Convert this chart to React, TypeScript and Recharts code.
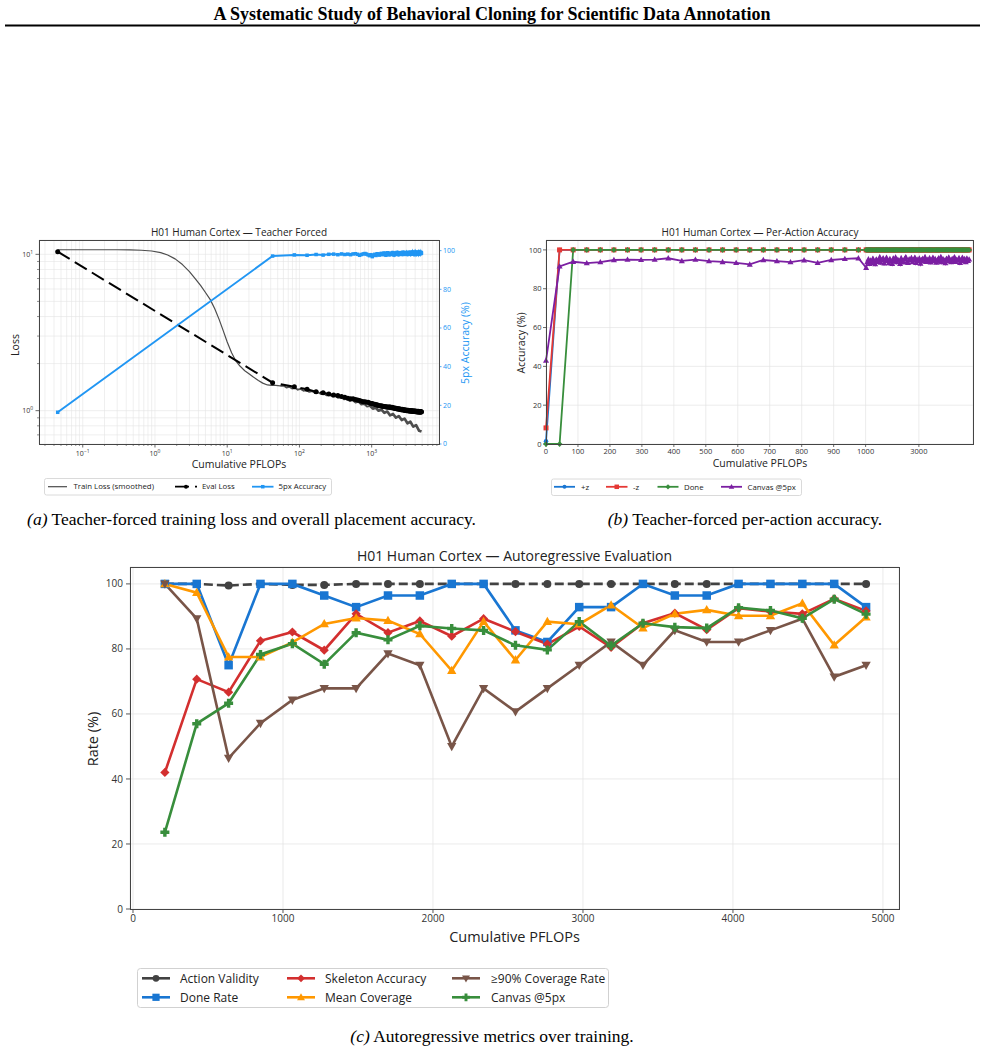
import React from 'react';
import { LineChart, Line, XAxis, YAxis, CartesianGrid } from 'recharts';

const SANS = '"Open Sans", "DejaVu Sans", sans-serif';
const SERIF = '"Liberation Serif", "DejaVu Serif", serif';
const INK = '#333333';
const FRAME = '#444444';
const GRID = '#e4e4e4';

// ---------- Teacher-forced run: smoothed training loss ----------
const TRAIN_PFLOPS = [
  0.045, 0.07, 0.1, 0.15, 0.2, 0.3, 0.45, 0.65, 0.9, 1.2,
  1.5, 1.9, 2.4, 3.0, 3.6, 4.3, 5.0, 5.8, 6.7, 7.7,
  8.8, 10, 11.5, 13, 15, 17.5, 20, 23, 27, 31,
  36, 41, 47, 54,
  60, 66, 72, 79, 87, 95, 104, 114, 125, 137,
  150, 165, 181, 198, 217, 238, 261, 286, 314, 344,
  377, 413, 453, 497, 545, 597, 655, 718, 787, 863,
  946, 1037, 1137, 1247, 1367, 1499, 1643, 1801, 1975, 2165,
  2374, 2603, 2853, 3128, 3430, 3760, 4122, 4520, 4900,
];
const TRAIN_LOSS = [
  10.7, 10.7, 10.7, 10.7, 10.7, 10.7, 10.68, 10.62, 10.5, 10.25,
  9.9, 9.35, 8.6, 7.75, 7.0, 6.3, 5.7, 5.15, 4.5, 3.85,
  3.25, 2.75, 2.35, 2.1, 1.93, 1.8, 1.72, 1.64, 1.56, 1.5,
  1.46, 1.45, 1.45, 1.44,
  1.448, 1.407, 1.423, 1.387, 1.398, 1.362, 1.378, 1.342, 1.352, 1.318,
  1.332, 1.298, 1.312, 1.278, 1.287, 1.253, 1.267, 1.233, 1.242, 1.208,
  1.222, 1.183, 1.192, 1.152, 1.167, 1.127, 1.138, 1.096, 1.104, 1.061,
  1.074, 1.03, 1.045, 0.999, 1.016, 0.968, 0.987, 0.933, 0.952, 0.902,
  0.923, 0.871, 0.889, 0.83, 0.85, 0.79, 0.808, 0.745, 0.735,
];
// the noisy tail of the smoothed curve is drawn progressively heavier
const TRAIN_SEGMENTS = [
  { from: 0, to: 33, width: 1.2 },
  { from: 33, to: 64, width: 1.9 },
  { from: 64, to: 82, width: 2.7 },
];

// ---------- Teacher-forced evaluations ----------
const EVAL_PFLOPS = [
  0.045,
  42.5, 85, 127.5, 170, 212.5, 255, 297.5, 340, 382.5, 425,
  467.5, 510, 552.5, 595, 637.5, 680, 722.5, 765, 807.5, 850,
  892.5, 935, 977.5, 1020, 1062.5, 1105, 1147.5, 1190, 1232.5, 1275,
  1317.5, 1360, 1402.5, 1445, 1487.5, 1530, 1572.5, 1615, 1657.5, 1700,
  1742.5, 1785, 1827.5, 1870, 1912.5, 1955, 1997.5, 2040, 2082.5, 2125,
  2167.5, 2210, 2252.5, 2295, 2337.5, 2380, 2422.5, 2465, 2507.5, 2550,
  2592.5, 2635, 2677.5, 2720, 2762.5, 2805, 2847.5, 2890, 2932.5, 2975,
  3017.5, 3060, 3102.5, 3145, 3187.5, 3230, 3272.5, 3315, 3357.5, 3400,
  3442.5, 3485, 3527.5, 3570, 3612.5, 3655, 3697.5, 3740, 3782.5, 3825,
  3867.5, 3910, 3952.5, 3995, 4037.5, 4080, 4122.5, 4165, 4207.5, 4250,
  4292.5, 4335, 4377.5, 4420, 4462.5, 4505, 4547.5, 4590, 4632.5, 4675,
  4717.5, 4760, 4802.5, 4845, 4887.5,
];
const EVAL_LOSS = [
  10.4,
  1.51, 1.42, 1.37, 1.32, 1.3, 1.28, 1.26, 1.25, 1.23, 1.22,
  1.2, 1.19, 1.19, 1.18, 1.17, 1.16, 1.15, 1.14, 1.14, 1.13,
  1.13, 1.12, 1.11, 1.11, 1.1, 1.1, 1.09, 1.09, 1.08, 1.075,
  1.075, 1.07, 1.07, 1.065, 1.065, 1.06, 1.06, 1.055, 1.055, 1.05,
  1.055, 1.055, 1.05, 1.045, 1.05, 1.045, 1.04, 1.04, 1.035, 1.035,
  1.035, 1.03, 1.03, 1.025, 1.03, 1.025, 1.02, 1.025, 1.02, 1.015,
  1.015, 1.02, 1.015, 1.01, 1.015, 1.01, 1.01, 1.005, 1.01, 1.005,
  1.005, 1.0, 1.005, 1.0, 1.005, 1.0, 1.0, 0.995, 1.0, 0.995,
  1.0, 0.995, 0.995, 1.0, 0.995, 0.99, 0.995, 0.99, 0.995, 0.99,
  0.99, 0.99, 0.995, 0.99, 0.985, 0.99, 0.99, 0.985, 0.985, 0.99,
  0.985, 0.98, 0.985, 0.99, 0.985, 0.98, 0.985, 0.985, 0.98, 0.98,
  0.985, 0.98, 0.985, 0.98, 0.985,
];
const ACC_5PX = [
  16.4,
  97.2, 97.8, 97.6, 98.0, 97.7, 98.1, 98.2, 97.9, 98.3, 98.0,
  98.2, 97.9, 98.3, 98.4, 98.1, 97.6, 98.0, 98.3, 98.5, 98.2,
  97.8, 97.4, 97.9, 96.9, 97.6, 98.1, 97.5, 98.4, 98.0, 97.7,
  98.3, 98.6, 97.9, 98.2, 98.8, 98.1, 97.6, 98.4, 98.9, 98.2,
  97.8, 98.5, 98.7, 98.0, 98.4, 99.0, 98.3, 97.7, 98.6, 98.8,
  98.1, 98.5, 99.1, 98.4, 97.9, 98.6, 98.9, 98.2, 98.7, 99.0,
  98.3, 98.0, 98.8, 99.2, 98.5, 98.1, 98.7, 98.9, 98.4, 98.6,
  99.1, 98.3, 98.0, 98.8, 99.0, 98.5, 98.2, 98.9, 99.2, 98.6,
  98.1, 98.7, 99.0, 98.4, 98.8, 99.3, 98.5, 98.2, 98.9, 98.6,
  99.1, 98.4, 98.0, 98.7, 99.2, 98.5, 98.8, 99.0, 98.3, 98.7,
  99.3, 98.6, 98.2, 98.9, 98.5, 99.1, 98.7, 98.4, 99.0, 98.6,
  98.8, 99.2, 98.5, 98.9, 98.7,
];
const ACC_PLUS_Z = [
  1.4,
  100, 100, 100, 100, 100, 100, 100, 100, 100, 100,
  100, 100, 100, 100, 100, 100, 100, 100, 100, 100,
  100, 100, 100, 100, 100, 100, 100, 100, 100, 100,
  100, 100, 100, 100, 100, 100, 100, 100, 100, 100,
  100, 100, 100, 100, 100, 100, 100, 100, 100, 100,
  100, 100, 100, 100, 100, 100, 100, 100, 100, 100,
  100, 100, 100, 100, 100, 100, 100, 100, 100, 100,
  100, 100, 100, 100, 100, 100, 100, 100, 100, 100,
  100, 100, 100, 100, 100, 100, 100, 100, 100, 100,
  100, 100, 100, 100, 100, 100, 100, 100, 100, 100,
  100, 100, 100, 100, 100, 100, 100, 100, 100, 100,
  100, 100, 100, 100, 100,
];
const ACC_MINUS_Z = [
  8.3,
  100, 100, 100, 100, 100, 100, 100, 100, 100, 100,
  100, 100, 100, 100, 100, 100, 100, 100, 100, 100,
  100, 100, 100, 100, 100, 100, 100, 100, 100, 100,
  100, 100, 100, 100, 100, 100, 100, 100, 100, 100,
  100, 100, 100, 100, 100, 100, 100, 100, 100, 100,
  100, 100, 100, 100, 100, 100, 100, 100, 100, 100,
  100, 100, 100, 100, 100, 100, 100, 100, 100, 100,
  100, 100, 100, 100, 100, 100, 100, 100, 100, 100,
  100, 100, 100, 100, 100, 100, 100, 100, 100, 100,
  100, 100, 100, 100, 100, 100, 100, 100, 100, 100,
  100, 100, 100, 100, 100, 100, 100, 100, 100, 100,
  100, 100, 100, 100, 100,
];
const ACC_DONE = [
  0,
  0, 100, 100, 100, 100, 100, 100, 100, 100, 100,
  100, 100, 100, 100, 100, 100, 100, 100, 100, 100,
  100, 100, 100, 100, 100, 100, 100, 100, 100, 100,
  100, 100, 100, 100, 100, 100, 100, 100, 100, 100,
  100, 100, 100, 100, 100, 100, 100, 100, 100, 100,
  100, 100, 100, 100, 100, 100, 100, 100, 100, 100,
  100, 100, 100, 100, 100, 100, 100, 100, 100, 100,
  100, 100, 100, 100, 100, 100, 100, 100, 100, 100,
  100, 100, 100, 100, 100, 100, 100, 100, 100, 100,
  100, 100, 100, 100, 100, 100, 100, 100, 100, 100,
  100, 100, 100, 100, 100, 100, 100, 100, 100, 100,
  100, 100, 100, 100, 100,
];
const ACC_CANVAS = [
  43,
  91.5, 93.9, 93.2, 93.7, 94.8, 95.0, 94.9, 95.0, 95.7, 94.3,
  95.0, 94.2, 93.8, 93.3, 92.5, 94.8, 94.2, 93.7, 94.7, 93.3,
  94.8, 95.4, 95.7, 90.8, 93.8, 95.2, 92.9, 94.6, 93.4, 95.5,
  94.0, 92.7, 95.1, 93.9, 94.8, 96.2, 93.5, 94.9, 95.8, 93.1,
  94.4, 96.0, 94.7, 93.2, 95.3, 94.1, 92.8, 95.6, 94.3, 96.1,
  93.7, 95.0, 94.5, 92.9, 95.7, 94.2, 93.6, 95.4, 96.3, 94.0,
  93.3, 95.2, 94.6, 95.9, 93.8, 94.9, 96.0, 93.4, 95.1, 94.3,
  95.6, 93.0, 94.8, 95.5, 94.1, 96.2, 93.9, 95.0, 94.4, 95.8,
  93.6, 94.7, 96.0, 94.2, 95.3, 93.5, 94.9, 95.7, 94.0, 96.4,
  93.8, 95.2, 94.6, 93.2, 95.5, 94.3, 96.1, 94.8, 93.7, 95.4,
  94.1, 96.3, 93.9, 95.0, 94.5, 95.8, 93.4, 94.9, 96.0, 94.2,
  95.3, 93.8, 95.6, 94.4, 95.1,
];

// ---------- Autoregressive evaluations ----------
const AR_PFLOPS = [
  212.5, 425, 637.5, 850, 1062.5, 1275, 1487.5, 1700, 1912.5, 2125,
  2337.5, 2550, 2762.5, 2975, 3187.5, 3400, 3612.5, 3825, 4037.5, 4250,
  4462.5, 4675, 4887.5,
];
const ACTION_VALIDITY = [
  100, 100, 99.5, 100, 99.7, 99.7, 100, 100, 100, 100,
  100, 100, 100, 100, 100, 100, 100, 100, 100, 100,
  100, 100, 100,
];
const DONE_RATE = [
  100, 100, 75, 100, 100, 96.43, 92.86, 96.43, 96.43, 100,
  100, 85.71, 82.14, 92.86, 92.86, 100, 96.43, 96.43, 100, 100,
  100, 100, 92.86,
];
const SKELETON_ACC = [
  42, 70.7, 66.7, 82.5, 85.2, 79.6, 90.8, 85, 88.6, 83.9,
  89.3, 85.3, 81.5, 86.9, 80.5, 87.9, 91, 85.9, 92.5, 91.5,
  90.8, 95.4, 91.7,
];
const MEAN_COVERAGE = [
  100, 97.3, 77.5, 77.5, 82, 87.7, 89.5, 88.7, 84.6, 73.3,
  88.4, 76.6, 88.4, 87.6, 93.5, 86.4, 90.8, 92, 90.2, 90.2,
  94, 81.2, 89.8,
];
const COVERAGE_90 = [
  100, 89.29, 46.43, 57.14, 64.29, 67.86, 67.86, 78.57, 75, 50,
  67.86, 60.71, 67.86, 75, 82.14, 75, 85.71, 82.14, 82.14, 85.71,
  89.29, 71.43, 75,
];
const CANVAS_5PX = [
  23.6, 57, 63.3, 78.3, 81.6, 75.3, 85, 82.8, 87.1, 86.3,
  85.7, 81.1, 79.7, 88.4, 81, 87.9, 86.7, 86.4, 92.7, 91.8,
  89.4, 95.3, 90.7,
];

// ---------- axis tick definitions ----------
const LOG_X_TICKS = [
  0.03, 0.04, 0.05, 0.06, 0.07, 0.08, 0.09,
  0.1, 0.2, 0.3, 0.4, 0.5, 0.6, 0.7, 0.8, 0.9,
  1, 2, 3, 4, 5, 6, 7, 8, 9,
  10, 20, 30, 40, 50, 60, 70, 80, 90,
  100, 200, 300, 400, 500, 600, 700, 800, 900,
  1000, 2000, 3000, 4000, 5000, 6000, 7000, 8000,
];
const LOG_Y_TICKS = [0.7, 0.8, 0.9, 1, 2, 3, 4, 5, 6, 7, 8, 9, 10];
const PCT_TICKS = [0, 20, 40, 60, 80, 100];
const PER_ACTION_TICK_LABELS = [0, 100, 200, 300, 400, 500, 600, 700, 800, 900, 1000, 3000];
const AR_X_TICKS = [0, 1000, 2000, 3000, 4000, 5000];

// the per-action axis is linear to 1000 PFLOPs, then squeezed 12x
const compressX = (x: number) => (x <= 1000 ? x : 1000 + (x - 1000) / 12);

type Shape = 'circle' | 'square' | 'diamond' | 'triangle' | 'triangleDown' | 'plus';

function MarkerShape({ cx, cy, shape, color, size }: { cx: number; cy: number; shape: Shape; color: string; size: number }) {
  if (cx == null || cy == null || Number.isNaN(cx) || Number.isNaN(cy)) return null;
  const h = size / 2;
  switch (shape) {
    case 'circle':
      return <circle cx={cx} cy={cy} r={h} fill={color} />;
    case 'square':
      return <rect x={cx - h} y={cy - h} width={size} height={size} fill={color} />;
    case 'diamond': {
      const d = h * 1.15;
      return <polygon points={`${cx},${cy - d} ${cx + d},${cy} ${cx},${cy + d} ${cx - d},${cy}`} fill={color} />;
    }
    case 'triangle':
      return <polygon points={`${cx},${cy - h * 1.15} ${cx + h * 1.1},${cy + h * 0.8} ${cx - h * 1.1},${cy + h * 0.8}`} fill={color} />;
    case 'triangleDown':
      return <polygon points={`${cx},${cy + h * 1.15} ${cx + h * 1.1},${cy - h * 0.8} ${cx - h * 1.1},${cy - h * 0.8}`} fill={color} />;
    case 'plus': {
      const t = size * 0.19;
      const a = h;
      return (
        <polygon
          points={`${cx - t},${cy - a} ${cx + t},${cy - a} ${cx + t},${cy - t} ${cx + a},${cy - t} ${cx + a},${cy + t} ${cx + t},${cy + t} ${cx + t},${cy + a} ${cx - t},${cy + a} ${cx - t},${cy + t} ${cx - a},${cy + t} ${cx - a},${cy - t} ${cx - t},${cy - t}`}
          fill={color}
        />
      );
    }
  }
  return null;
}

const dotRenderer = (shape: Shape, color: string, size: number) => (p: any) => (
  <MarkerShape key={`m-${p.index}`} cx={p.cx} cy={p.cy} shape={shape} color={color} size={size} />
);

const isMajorLog = (v: number) => Math.abs(Math.log10(v) - Math.round(Math.log10(v))) < 1e-6;
const expLabel = (v: number) => {
  const e = Math.round(Math.log10(v));
  return e < 0 ? `\u2212${-e}` : `${e}`;
};

// ---------- (a) teacher-forced loss + 5px accuracy ----------
const A_PLOT_LEFT = 39;
const A_PLOT_BOTTOM = 219;

function XLogTick(p: any) {
  const v = p.payload.value;
  const major = isMajorLog(v);
  return (
    <g>
      <line x1={p.x} x2={p.x} y1={A_PLOT_BOTTOM} y2={A_PLOT_BOTTOM + (major ? 3.5 : 2)} stroke={FRAME} strokeWidth={major ? 0.8 : 0.6} />
      {major && (
        <text x={p.x} y={A_PLOT_BOTTOM + 11.5} textAnchor="middle" fontSize={7} fill={INK}>
          10<tspan dy={-3} fontSize={5}>{expLabel(v)}</tspan>
        </text>
      )}
    </g>
  );
}

function YLogTick(p: any) {
  const v = p.payload.value;
  const major = isMajorLog(v);
  return (
    <g>
      <line x1={A_PLOT_LEFT - (major ? 3.5 : 2)} x2={A_PLOT_LEFT} y1={p.y} y2={p.y} stroke={FRAME} strokeWidth={major ? 0.8 : 0.6} />
      {major && (
        <text x={A_PLOT_LEFT - 6} y={p.y + 2.5} textAnchor="end" fontSize={7} fill={INK}>
          10<tspan dy={-3} fontSize={5}>{expLabel(v)}</tspan>
        </text>
      )}
    </g>
  );
}

function TeacherForcedChart() {
  const train = TRAIN_PFLOPS.map((x, i) => ({ x, loss: TRAIN_LOSS[i] }));
  const evals = EVAL_PFLOPS.map((x, i) => ({ x, loss: EVAL_LOSS[i], acc: ACC_5PX[i] }));
  return (
    <LineChart width={480} height={260} margin={{ top: 15, right: 11, bottom: 16, left: 0 }}>
      <CartesianGrid stroke={GRID} strokeWidth={0.6} />
      <XAxis
        dataKey="x"
        type="number"
        scale="log"
        domain={[0.0248, 8550]}
        allowDataOverflow
        ticks={LOG_X_TICKS}
        interval={0}
        height={25}
        axisLine={false}
        tickLine={false}
        tick={(p: any) => <XLogTick {...p} />}
      />
      <YAxis
        type="number"
        scale="log"
        domain={[0.612, 12.35]}
        allowDataOverflow
        ticks={LOG_Y_TICKS}
        interval={0}
        width={39}
        axisLine={false}
        tickLine={false}
        tick={(p: any) => <YLogTick {...p} />}
      />
      <YAxis
        yAxisId="acc"
        orientation="right"
        type="number"
        domain={[0, 105.5]}
        ticks={PCT_TICKS}
        interval={0}
        width={30}
        axisLine={false}
        tickSize={2.5}
        tickMargin={1.5}
        tickLine={{ stroke: '#2196F3', strokeWidth: 0.8 }}
        tick={{ fill: '#2196F3', fontSize: 7 }}
      />
      {TRAIN_SEGMENTS.map((seg) => (
        <Line
          key={`train-${seg.from}`}
          data={train.slice(seg.from, seg.to + 1)}
          dataKey="loss"
          stroke="#4d4d4d"
          strokeWidth={seg.width}
          strokeLinejoin="round"
          dot={false}
          activeDot={false}
          isAnimationActive={false}
        />
      ))}
      <Line
        data={evals}
        dataKey="loss"
        stroke="#000000"
        strokeWidth={2}
        strokeDasharray="14 6"
        dot={dotRenderer('circle', '#000000', 5)}
        activeDot={false}
        isAnimationActive={false}
      />
      <Line
        data={evals}
        yAxisId="acc"
        dataKey="acc"
        stroke="#2196F3"
        strokeWidth={2}
        dot={dotRenderer('square', '#2196F3', 3.5)}
        activeDot={false}
        isAnimationActive={false}
      />
    </LineChart>
  );
}

// ---------- (b) per-action accuracy ----------
function PerActionChart() {
  const rows = EVAL_PFLOPS.map((x, i) => ({
    t: compressX(x),
    plusZ: ACC_PLUS_Z[i],
    minusZ: ACC_MINUS_Z[i],
    done: ACC_DONE[i],
    canvas: ACC_CANVAS[i],
  }));
  const ticks = PER_ACTION_TICK_LABELS.map(compressX);
  return (
    <LineChart width={495} height={260} margin={{ top: 15, right: 12, bottom: 16, left: 26 }} data={rows}>
      <CartesianGrid stroke={GRID} strokeWidth={0.7} />
      <XAxis
        dataKey="t"
        type="number"
        domain={[0, 1336]}
        ticks={ticks}
        interval={0}
        height={25}
        axisLine={false}
        tickSize={3}
        tickMargin={2}
        tickLine={{ stroke: FRAME, strokeWidth: 0.8 }}
        tick={{ fill: INK, fontSize: 7.5 }}
        tickFormatter={(_v: number, i: number) => `${PER_ACTION_TICK_LABELS[i]}`}
      />
      <YAxis
        type="number"
        domain={[0, 105.1]}
        ticks={PCT_TICKS}
        interval={0}
        width={30}
        axisLine={false}
        tickSize={3}
        tickMargin={1.5}
        tickLine={{ stroke: FRAME, strokeWidth: 0.8 }}
        tick={{ fill: INK, fontSize: 7.5 }}
      />
      <Line dataKey="plusZ" stroke="#1976D2" strokeWidth={1.8} dot={dotRenderer('circle', '#1976D2', 4.5)} activeDot={false} isAnimationActive={false} />
      <Line dataKey="minusZ" stroke="#E53935" strokeWidth={1.8} dot={dotRenderer('square', '#E53935', 5)} activeDot={false} isAnimationActive={false} />
      <Line dataKey="done" stroke="#388E3C" strokeWidth={1.8} dot={dotRenderer('diamond', '#388E3C', 5)} activeDot={false} isAnimationActive={false} />
      <Line dataKey="canvas" stroke="#7B1FA2" strokeWidth={1.8} dot={dotRenderer('triangle', '#7B1FA2', 5.5)} activeDot={false} isAnimationActive={false} />
    </LineChart>
  );
}

// ---------- (c) autoregressive evaluation ----------
const AR_SERIES: { key: string; name: string; values: number[]; color: string; shape: Shape; size: number; dash?: string }[] = [
  { key: 'validity', name: 'Action Validity', values: ACTION_VALIDITY, color: '#424242', shape: 'circle', size: 8, dash: '9 4' },
  { key: 'done', name: 'Done Rate', values: DONE_RATE, color: '#1976D2', shape: 'square', size: 8.5 },
  { key: 'skeleton', name: 'Skeleton Accuracy', values: SKELETON_ACC, color: '#D32F2F', shape: 'diamond', size: 8 },
  { key: 'coverage', name: 'Mean Coverage', values: MEAN_COVERAGE, color: '#FF9800', shape: 'triangle', size: 8.5 },
  { key: 'cov90', name: '\u226590% Coverage Rate', values: COVERAGE_90, color: '#795548', shape: 'triangleDown', size: 8.5 },
  { key: 'canvas', name: 'Canvas @5px', values: CANVAS_5PX, color: '#388E3C', shape: 'plus', size: 9 },
];

function AutoregressiveChart() {
  const rows = AR_PFLOPS.map((x, i) => {
    const r: Record<string, number> = { x };
    AR_SERIES.forEach((s) => (r[s.key] = s.values[i]));
    return r;
  });
  return (
    <LineChart width={850} height={380} margin={{ top: 7, right: 11, bottom: 11, left: 30 }} data={rows}>
      <CartesianGrid stroke={GRID} strokeWidth={0.8} />
      <XAxis
        dataKey="x"
        type="number"
        domain={[-20, 5107]}
        ticks={AR_X_TICKS}
        interval={0}
        height={20}
        axisLine={false}
        tickSize={4}
        tickMargin={2}
        tickLine={{ stroke: FRAME, strokeWidth: 0.9 }}
        tick={{ fill: INK, fontSize: 10 }}
      />
      <YAxis
        type="number"
        domain={[0, 105.2]}
        ticks={PCT_TICKS}
        interval={0}
        width={40}
        axisLine={false}
        tickSize={4}
        tickMargin={3}
        tickLine={{ stroke: FRAME, strokeWidth: 0.9 }}
        tick={{ fill: INK, fontSize: 10 }}
      />
      {AR_SERIES.map((s) => (
        <Line
          key={s.key}
          dataKey={s.key}
          stroke={s.color}
          strokeWidth={2.6}
          strokeDasharray={s.dash}
          dot={dotRenderer(s.shape, s.color, s.size)}
          activeDot={false}
          isAnimationActive={false}
        />
      ))}
    </LineChart>
  );
}

// ---------- legend handle ----------
function Handle({ x, y, w, color, shape, size, dash, lw = 1.8 }: { x: number; y: number; w: number; color: string; shape?: Shape; size?: number; dash?: string; lw?: number }) {
  return (
    <g>
      <line x1={x} x2={x + w} y1={y} y2={y} stroke={color} strokeWidth={lw} strokeDasharray={dash} />
      {shape && <MarkerShape cx={x + w / 2} cy={y} shape={shape} color={color} size={size || 5} />}
    </g>
  );
}

function Overlay() {
  const legendC = [
    { col: 0, row: 0, s: AR_SERIES[0] },
    { col: 0, row: 1, s: AR_SERIES[1] },
    { col: 1, row: 0, s: AR_SERIES[2] },
    { col: 1, row: 1, s: AR_SERIES[3] },
    { col: 2, row: 0, s: AR_SERIES[4] },
    { col: 2, row: 1, s: AR_SERIES[5] },
  ];
  const colHandleX = [142, 287, 452];
  const colTextX = [180, 325, 491];
  const rowY = [978.3, 997.3];
  return (
    <svg width={985} height={1052} style={{ position: 'absolute', left: 0, top: 0, pointerEvents: 'none' }}>
      {/* page header */}
      <text x={492} y={20} textAnchor="middle" fontFamily={SERIF} fontWeight="bold" fontSize={18} fill="#000">
        A Systematic Study of Behavioral Cloning for Scientific Data Annotation
      </text>
      <line x1={5} x2={980} y1={25.5} y2={25.5} stroke="#000" strokeWidth={2} />

      {/* frames */}
      <rect x={39.5} y={240.5} width={400} height={204} fill="none" stroke={FRAME} strokeWidth={1} />
      <rect x={546.5} y={240.5} width={427} height={204} fill="none" stroke={FRAME} strokeWidth={1} />
      <rect x={130.5} y={567.5} width={769} height={342} fill="none" stroke={FRAME} strokeWidth={1} />

      <g fontFamily={SANS}>
        {/* (a) */}
        <text x={239} y={236} textAnchor="middle" fontSize={10} fill="#222">H01 Human Cortex — Teacher Forced</text>
        <text x={239} y={468} textAnchor="middle" fontSize={10.5} fill="#222">Cumulative PFLOPs</text>
        <text transform="translate(19,345) rotate(-90)" textAnchor="middle" fontSize={10.5} fill="#222">Loss</text>
        <text transform="translate(469,343) rotate(-90)" textAnchor="middle" fontSize={10.5} fill="#2196F3">5px Accuracy (%)</text>

        {/* (b) */}
        <text x={760} y={236} textAnchor="middle" fontSize={10} fill="#222">H01 Human Cortex — Per-Action Accuracy</text>
        <text x={760} y={467} textAnchor="middle" fontSize={10.5} fill="#222">Cumulative PFLOPs</text>
        <text transform="translate(525,343) rotate(-90)" textAnchor="middle" fontSize={10.5} fill="#222">Accuracy (%)</text>

        {/* (c) */}
        <text x={514.5} y={561} textAnchor="middle" fontSize={14} fill="#222">H01 Human Cortex — Autoregressive Evaluation</text>
        <text x={514.5} y={942} textAnchor="middle" fontSize={14.5} fill="#222">Cumulative PFLOPs</text>
        <text transform="translate(98,739) rotate(-90)" textAnchor="middle" fontSize={14.5} fill="#222">Rate (%)</text>

        {/* legend (a) */}
        <rect x={44.5} y={478.5} width={287} height={16.5} rx={2} fill="#fff" stroke="#d0d0d0" strokeWidth={0.8} />
        <Handle x={48} y={486.7} w={19} color="#4a4a4a" lw={1.2} />
        <text x={73.5} y={489.4} fontSize={7.8} fill="#222">Train Loss (smoothed)</text>
        <Handle x={175} y={486.7} w={22} color="#000" shape="circle" size={4} dash="14 6" lw={1.8} />
        <text x={202} y={489.4} fontSize={7.8} fill="#222">Eval Loss</text>
        <Handle x={252} y={486.7} w={21.5} color="#2196F3" shape="square" size={3.5} lw={1.8} />
        <text x={278.5} y={489.4} fontSize={7.8} fill="#222">5px Accuracy</text>

        {/* legend (b) */}
        <rect x={551.5} y={479} width={250} height={16.5} rx={2} fill="#fff" stroke="#d0d0d0" strokeWidth={0.8} />
        <Handle x={554} y={486.8} w={21} color="#1976D2" shape="circle" size={4} />
        <text x={581} y={489.5} fontSize={7.8} fill="#222">+z</text>
        <Handle x={606} y={486.8} w={21.5} color="#E53935" shape="square" size={4.5} />
        <text x={633} y={489.5} fontSize={7.8} fill="#222">-z</text>
        <Handle x={657.5} y={486.8} w={21} color="#388E3C" shape="diamond" size={4.5} />
        <text x={684} y={489.5} fontSize={7.8} fill="#222">Done</text>
        <Handle x={721} y={486.8} w={21} color="#7B1FA2" shape="triangle" size={5} />
        <text x={747.5} y={489.5} fontSize={7.8} fill="#222">Canvas @5px</text>

        {/* legend (c) */}
        <rect x={137.5} y={968.5} width={471} height={39} rx={3} fill="#fff" stroke="#cccccc" strokeWidth={0.9} />
        {legendC.map(({ col, row, s }) => (
          <g key={s.key}>
            <Handle x={colHandleX[col]} y={rowY[row]} w={28} color={s.color} shape={s.shape} size={s.size * 0.85} lw={2.6} />
            <text x={colTextX[col]} y={rowY[row] + 4.3} fontSize={12} fill="#222">{s.name}</text>
          </g>
        ))}
      </g>

      {/* captions */}
      <g fontFamily={SERIF} fontSize={17.5} fill="#000">
        <text x={251.5} y={525} textAnchor="middle">
          <tspan fontStyle="italic">(a)</tspan> Teacher-forced training loss and overall placement accuracy.
        </text>
        <text x={745} y={525} textAnchor="middle">
          <tspan fontStyle="italic">(b)</tspan> Teacher-forced per-action accuracy.
        </text>
        <text x={492} y={1042} textAnchor="middle">
          <tspan fontStyle="italic">(c)</tspan> Autoregressive metrics over training.
        </text>
      </g>
    </svg>
  );
}

export default function App() {
  return (
    <div style={{ position: 'absolute', left: 0, top: 0, width: 985, height: 1052, background: '#fff', overflow: 'hidden', fontFamily: SANS }}>
      <div style={{ position: 'absolute', left: 0, top: 225 }}>
        <TeacherForcedChart />
      </div>
      <div style={{ position: 'absolute', left: 490, top: 225 }}>
        <PerActionChart />
      </div>
      <div style={{ position: 'absolute', left: 60, top: 560 }}>
        <AutoregressiveChart />
      </div>
      <Overlay />
    </div>
  );
}
